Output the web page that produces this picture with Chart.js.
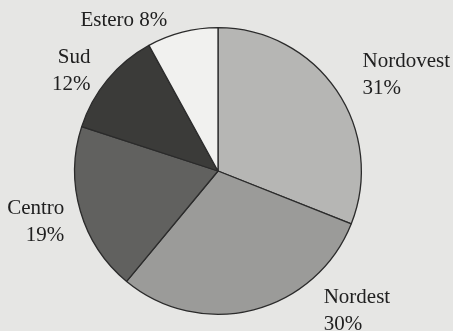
<!DOCTYPE html>
<html>
<head>
<meta charset="utf-8">
<script src="https://cdn.jsdelivr.net/npm/chart.js@4/dist/chart.umd.min.js"></script>
<style>
  html, body { margin: 0; padding: 0; background: #e6e6e4; }
  #wrap { width: 453px; height: 331px; }
</style>
</head>
<body>
<div id="wrap"><canvas id="pie" width="453" height="331"></canvas></div>
<script>
// regioni e quote percentuali
const regions = ['Nordovest', 'Nordest', 'Centro', 'Sud', 'Estero'];
const shares = [31, 30, 19, 12, 8];
const fills = ['#b6b6b4', '#9b9b99', '#61615f', '#3b3b39', '#f1f1ef'];

// posizione delle etichette rispetto al bordo della fetta: [dx, dy, allineamento, su una riga]
const labelPos = [
  [26, -29, 'left', false],
  [70, -12, 'left', false],
  [-16, -3, 'right', false],
  [-17, -22, 'right', false],
  [-15, -12, 'right', true]
];

const sliceLabels = {
  id: 'sliceLabels',
  afterDraw(chart) {
    const ctx = chart.ctx;
    const meta = chart.getDatasetMeta(0);
    ctx.save();
    ctx.font = '21px "Liberation Serif", "Times New Roman", serif';
    ctx.fillStyle = '#202020';
    ctx.textBaseline = 'middle';
    meta.data.forEach((arc, i) => {
      const p = arc.getProps(['x', 'y', 'startAngle', 'endAngle', 'outerRadius'], true);
      const mid = (p.startAngle + p.endAngle) / 2;
      const ax = p.x + Math.cos(mid) * p.outerRadius;
      const ay = p.y + Math.sin(mid) * p.outerRadius;
      const [dx, dy, align, oneLine] = labelPos[i];
      const pct = shares[i] + '%';
      ctx.textAlign = align;
      if (oneLine) {
        ctx.fillText(regions[i] + ' ' + pct, ax + dx, ay + dy);
      } else {
        ctx.fillText(regions[i], ax + dx, ay + dy);
        ctx.fillText(pct, ax + dx, ay + dy + 27);
      }
    });
    ctx.restore();
  }
};

new Chart(document.getElementById('pie'), {
  type: 'pie',
  data: {
    labels: regions,
    datasets: [{
      data: shares,
      backgroundColor: fills,
      borderColor: '#2b2b2b',
      borderWidth: 1.3
    }]
  },
  options: {
    responsive: false,
    animation: false,
    layout: { padding: { left: 74, right: 91, top: 27, bottom: 16 } },
    plugins: {
      legend: { display: false },
      tooltip: { enabled: false }
    }
  },
  plugins: [sliceLabels]
});
</script>
</body>
</html>
